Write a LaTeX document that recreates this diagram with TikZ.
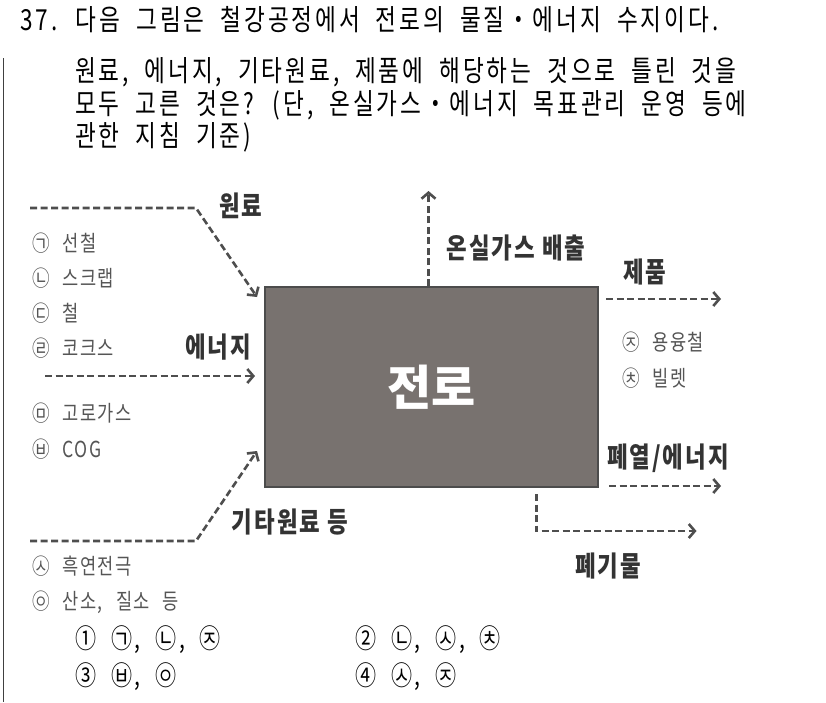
\documentclass[tikz,border=0pt]{standalone}
\usepackage{fontspec}
\setmainfont{Noto Sans CJK KR}
\newfontfamily\qfont{Noto Sans CJK KR}[FakeStretch=0.78, LetterSpace=10, WordSpace=2]
\newfontfamily\itemfont{Noto Sans CJK KR}[FakeStretch=0.8, LetterSpace=6, WordSpace=2.5]
\newfontfamily\tagfont{Noto Sans CJK KR}[FakeStretch=0.8, LetterSpace=7]
\usetikzlibrary{arrows.meta}
\usetikzlibrary{calc}
\usetikzlibrary{positioning}
\definecolor{flowgray}{HTML}{4E4E4E}
\definecolor{itemgray}{HTML}{555555}
\definecolor{boxgray}{HTML}{78726F}

\begin{document}
\begin{tikzpicture}[x=1pt,y=-1pt]

                \useasboundingbox (0,0) rectangle (826,702);

                \def\d{35}

                % Styles for the question text and the diagram
                \tikzset{
                    qtext/.style={anchor=west, inner sep=0pt,
                        font=\qfont\fontsize{29}{32}\selectfont},
                    choice/.style={qtext, font=\qfont\fontsize{27}{30}\selectfont},
                    item/.style={anchor=west, inner sep=0pt, text=itemgray,
                        font=\itemfont\fontsize{22}{24}\selectfont},
                    tag/.style={inner sep=0pt, text=black!80,
                        font=\tagfont\fontsize{28}{30}\selectfont\bfseries},
                    flow/.style={draw=flowgray, line width=2.6pt,
                        dash pattern=on 7pt off 3.5pt,
                        -{Straight Barb[length=6pt,width=14pt,line width=2.6pt]}},
                    furnacebox/.style={draw=black!70, line width=2pt, fill=boxgray,
                        minimum width=333pt, minimum height=200pt, text=white,
                        font=\fontsize{48}{52}\selectfont\bfseries}
                }

                % Question
                \node[qtext] (q) at (20,20)
                {37. 다음 그림은 철강공정에서 전로의 물질・에너지 수지이다.};
                \node[qtext] (p1) at (75,72)
                {원료, 에너지, 기타원료, 제품에 해당하는 것으로 틀린 것을};
                \node[qtext] (p2) at (75,105)
                {모두 고른 것은? (단, 온실가스・에너지 목표관리 운영 등에};
                \node[qtext] (p3) at (75,137)
                {관한 지침 기준)};
                \coordinate (mtop) at (3,58);
                \coordinate (mbot) at (3,702);
                \draw[black!75, line width=1pt] (mtop) -- (mbot);

                % Furnace
                \node[furnacebox] (furnace) at (431.5,387) {전로};

                % Inputs
                \foreach \t [count=\i] in {㉠ 선철, ㉡ 스크랩, ㉢ 철, ㉣ 코크스}
                    \node[item] (in\i) at (32,208+\d*\i) {\t};
                \node[item] (in5) at (32,413) {㉤ 고로가스};
                \node[item] (in6) at (32,449) {㉥ COG};
                \node[item] (in7) at (32,566) {㉦ 흑연전극};
                \node[item] (in8) at (32,602) {㉧ 산소, 질소 등};

                \node[tag] (raw) at (241,206) {원료};
                \node[tag] (energy) at (218,347) {에너지};
                \node[tag] (other) at (290,522) {기타원료 등};

                \coordinate (rawA) at (30,208);
                \coordinate (rawB) at (196,208);
                \coordinate (enA) at (45,376);
                \coordinate (othA) at (30,541);
                \coordinate (othB) at (196,541);

                % Outputs
                \node[tag] (ghg) at (516,248) {온실가스 배출};
                \node[tag] (prod) at (645,272) {제품};
                \node[item] (out1) at (622,342) {㉨ 용융철};
                \node[item] (out2) at (622,378) {㉩ 빌렛};
                \node[tag] (heat) at (668,458) {폐열/에너지};
                \node[tag] (waste) at (608,566) {폐기물};

                \begin{scope}
                    \draw[flow] (rawA) -- (rawB)
                        -- ($(furnace.north west)+(-7,11)$);
                    \draw[flow, shorten >=9pt] (enA) -- (enA -| furnace.west);
                    \draw[flow] (othA) -- (othB)
                        -- ($(furnace.south west)+(-7,-37)$);
                    \draw[flow] ($(furnace.north)+(-3,0)$) -- ++(0,-95);
                    \draw[flow] ($(furnace.north east)+(7,13)$) -- ++(115,0);
                    \draw[flow] ($(furnace.south east)+(10,-2)$) -- ++(112,0);
                    \draw[flow] ($(furnace.south)+(105,6)$) -- ++(0,37)
                        -- ++(160,0);
                \end{scope}

                % Choices
                \node[choice] (c1) at (75,640) {① ㉠, ㉡, ㉨};
                \node[choice] (c2) at (355,640) {② ㉡, ㉦, ㉩};
                \node[choice] (c3) at (75,677) {③ ㉥, ㉧};
                \node[choice] (c4) at (355,677) {④ ㉦, ㉨};

\end{tikzpicture}
\end{document}
